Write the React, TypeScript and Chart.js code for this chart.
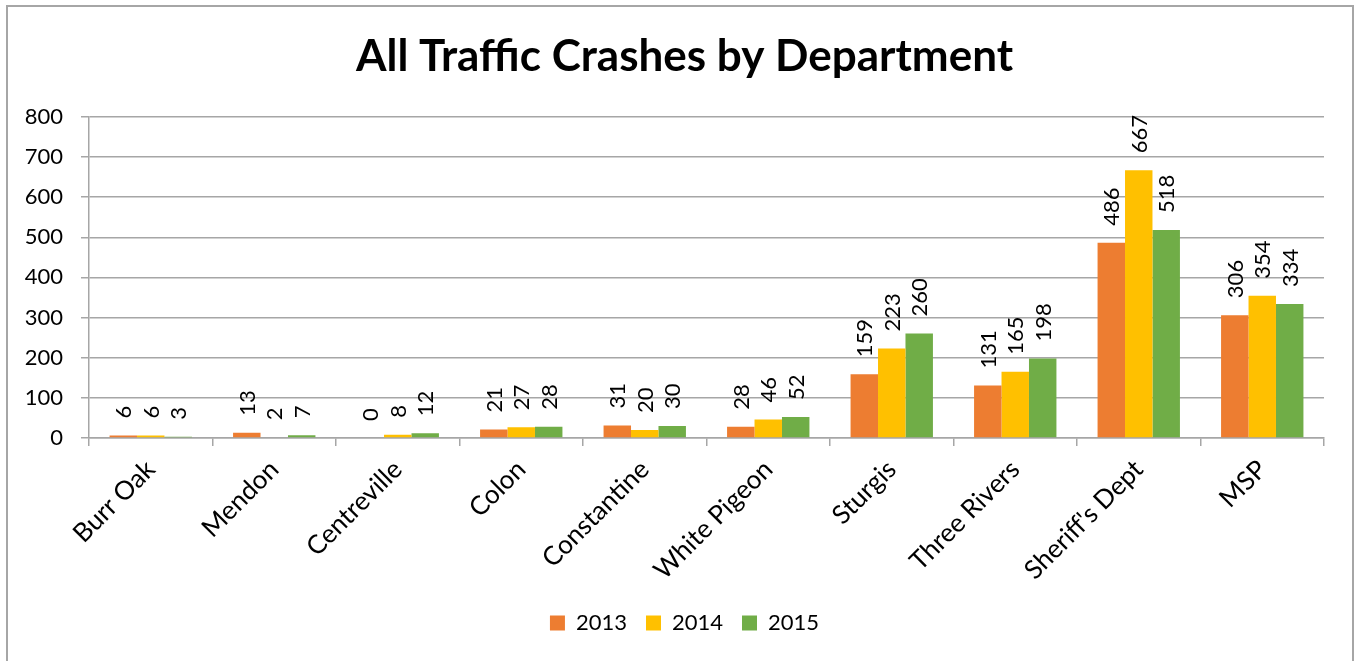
import React, { useEffect, useRef } from "react";
import { Chart, registerables } from "chart.js";

Chart.register(...registerables);

const departments = [
  "Burr Oak",
  "Mendon",
  "Centreville",
  "Colon",
  "Constantine",
  "White Pigeon",
  "Sturgis",
  "Three Rivers",
  "Sheriff's Dept",
  "MSP",
];
const crashes2013 = [6, 13, 0, 21, 31, 28, 159, 131, 486, 306];
const crashes2014 = [6, 2, 8, 27, 20, 46, 223, 165, 667, 354];
const crashes2015 = [3, 7, 12, 28, 30, 52, 260, 198, 518, 334];
const seriesLabels = ["2013", "2014", "2015"];
const seriesColors = ["#ED7D31", "#FFC000", "#70AD47"];

const FONT = "Lato, 'Open Sans', sans-serif";
const W = 1357;
const H = 661;

const frame = {
  id: "frame",
  beforeDraw(chart: any) {
    const ctx = chart.ctx;
    ctx.save();
    ctx.fillStyle = "#ffffff";
    ctx.fillRect(0, 0, W, H);
    ctx.strokeStyle = "#a6a6a6";
    ctx.lineWidth = 2;
    ctx.strokeRect(7, 6, 1346, H + 20);
    ctx.restore();
  },
};

const valueLabels = {
  id: "valueLabels",
  afterDatasetsDraw(chart: any) {
    const ctx = chart.ctx;
    ctx.save();
    ctx.font = `22px ${FONT}`;
    ctx.fillStyle = "#000000";
    ctx.textAlign = "left";
    ctx.textBaseline = "middle";
    chart.data.datasets.forEach((ds: any, i: number) => {
      const meta = chart.getDatasetMeta(i);
      meta.data.forEach((bar: any, j: number) => {
        ctx.save();
        ctx.translate(bar.x + 1, bar.y - 17);
        ctx.rotate(-Math.PI / 2);
        ctx.fillText(String(ds.data[j]), 0, 0);
        ctx.restore();
      });
    });
    ctx.restore();
  },
};

export default function App() {
  const ref = useRef<HTMLCanvasElement | null>(null);
  useEffect(() => {
    document.body.style.margin = "0";
    const chart = new Chart(ref.current as HTMLCanvasElement, {
      type: "bar",
      data: {
        labels: departments,
        datasets: [crashes2013, crashes2014, crashes2015].map((d, i) => ({
          label: seriesLabels[i],
          data: d,
          backgroundColor: seriesColors[i],
          borderWidth: 0,
          categoryPercentage: 0.667,
          barPercentage: 1,
        })),
      },
      options: {
        responsive: false,
        animation: false,
        devicePixelRatio: 1,
        layout: { padding: { left: 12, right: 0, top: 0, bottom: 17 } },
        font: { family: FONT, size: 22 },
        color: "#000",
        plugins: {
          title: {
            display: true,
            text: "All Traffic Crashes by Department",
            color: "#000",
            font: { family: FONT, size: 44, weight: "bold", lineHeight: 1.2 },
            padding: { top: 30, bottom: 34 },
          },
          legend: {
            display: true,
            position: "bottom",
            labels: {
              boxWidth: 15,
              boxHeight: 15,
              padding: 19,
              color: "#000",
              font: { family: FONT, size: 22 },
            },
          },
          tooltip: { enabled: false },
        },
        scales: {
          x: {
            grid: {
              drawOnChartArea: false,
              drawTicks: true,
              tickLength: 8,
              color: "#a6a6a6",
              lineWidth: 1.5,
            },
            border: { color: "#a6a6a6", width: 1.5 },
            ticks: {
              autoSkip: false,
              maxRotation: 45,
              minRotation: 45,
              padding: 8,
              color: "#000",
              font: { family: FONT, size: 26 },
            },
            afterFit(scale: any) {
              scale.height = 155;
            },
          },
          y: {
            min: 0,
            max: 800,
            ticks: {
              stepSize: 100,
              padding: 18,
              color: "#000",
              font: { family: FONT, size: 22 },
            },
            grid: {
              color: "#a6a6a6",
              lineWidth: 1.5,
              tickLength: 8,
            },
            border: { color: "#a6a6a6", width: 1.5 },
            afterFit(scale: any) {
              scale.width = 77;
            },
          },
          yRight: {
            position: "right",
            display: true,
            min: 0,
            max: 800,
            grid: { display: false, drawOnChartArea: false, drawTicks: false },
            border: { display: false },
            ticks: { display: false },
            afterFit(scale: any) {
              scale.width = 33;
            },
          },
        },
      },
      plugins: [frame, valueLabels],
    } as any);
    return () => chart.destroy();
  }, []);
  return (
    <div style={{ position: "absolute", left: 0, top: 0, width: W, height: H }}>
      <canvas ref={ref} width={W} height={H} style={{ width: W, height: H }} />
    </div>
  );
}
